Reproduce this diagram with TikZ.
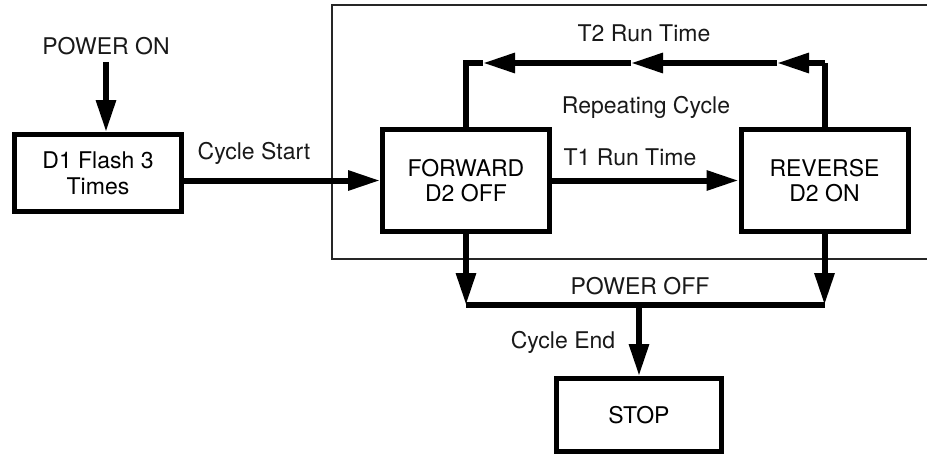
\documentclass[tikz,border=0pt]{standalone}
\usepackage{fontspec}
\setmainfont{TeX Gyre Heros}
\usepackage{tikz}
\usetikzlibrary{positioning, arrows.meta, calc}
\tikzset{
  statebox/.style={rectangle, draw=black, line width=2.5pt, minimum width=83.5pt, minimum height=51pt, align=center, text centered, font=\fontsize{11.5}{12.8}\selectfont},
  arrow/.style={line width=3pt, -{Triangle[length=16pt, width=9.5pt]}},
  wire/.style={line width=3pt},
  lbl/.style={font=\fontsize{11.5}{12.8}\selectfont, text=black!90}
}

\begin{document}
\begin{tikzpicture}[x=0.5pt, y=-0.5pt]
    \useasboundingbox (0,0) rectangle (927,455);

    % 1. Recuadro del ciclo
    \draw[line width=0.9pt, black!85] (332,5) rectangle (932,259);

    % 2. Bloques
    \node[statebox, minimum height=38.5pt] (d1) at (98,173) {D1 Flash 3\\Times};
    \node[statebox] (fwd) at (466,180.5) {FORWARD\\D2 OFF};
    \node[statebox] (rev) at (824.5,180.5) {REVERSE\\D2 ON};
    \node[statebox, minimum width=82.5pt, minimum height=36.5pt] (stop) at (639,415) {STOP};

    % 3. Encendido
    \node[lbl] (pon) at (106,46) {POWER ON};
    \draw[arrow] (pon.south) -- (pon.south |- d1.north);
    \node[lbl] (cstart) at (254,153) {Cycle Start};
    \draw[arrow] (d1.east |- fwd.west) -- (fwd.west);

    % 4. Ciclo repetitivo
    \node[lbl] (t1) at (630,157) {T1 Run Time};
    \draw[arrow] (fwd.east) -- (rev.west);
    \node[lbl] (rep) at (646,107) {Repeating Cycle};
    \node[lbl] (t2) at (644,33) {T2 Run Time};
    \coordinate (rtop) at (rev.north |- 0,63);
    \coordinate (ltop) at (fwd.north |- 0,63);
    \coordinate (m1) at (777,63);
    \coordinate (m2) at (631,63);
    \coordinate (m3) at (483,63);
    \draw[wire] (rev.north) -- (rtop);
    \draw[arrow] (rtop) -- (m1);
    \draw[arrow] (m1) -- (m2);
    \draw[arrow] (m2) -- (m3);
    \draw[wire] (m3) -- (ltop) -- (fwd.north);

    % 5. Apagado
    \coordinate (lbot) at (fwd.south |- 0,305);
    \coordinate (rbot) at (rev.south |- 0,305);
    \coordinate (cbot) at (stop.north |- 0,305);
    \draw[arrow] (fwd.south) -- (lbot);
    \draw[arrow] (rev.south) -- (rbot);
    \draw[wire] (lbot) -- (rbot);
    \node[lbl] (poff) at (640,286) {POWER OFF};
    \node[lbl] (cend) at (563,342) {Cycle End};
    \draw[arrow] (cbot) -- (stop.north);
\end{tikzpicture}
\end{document}
